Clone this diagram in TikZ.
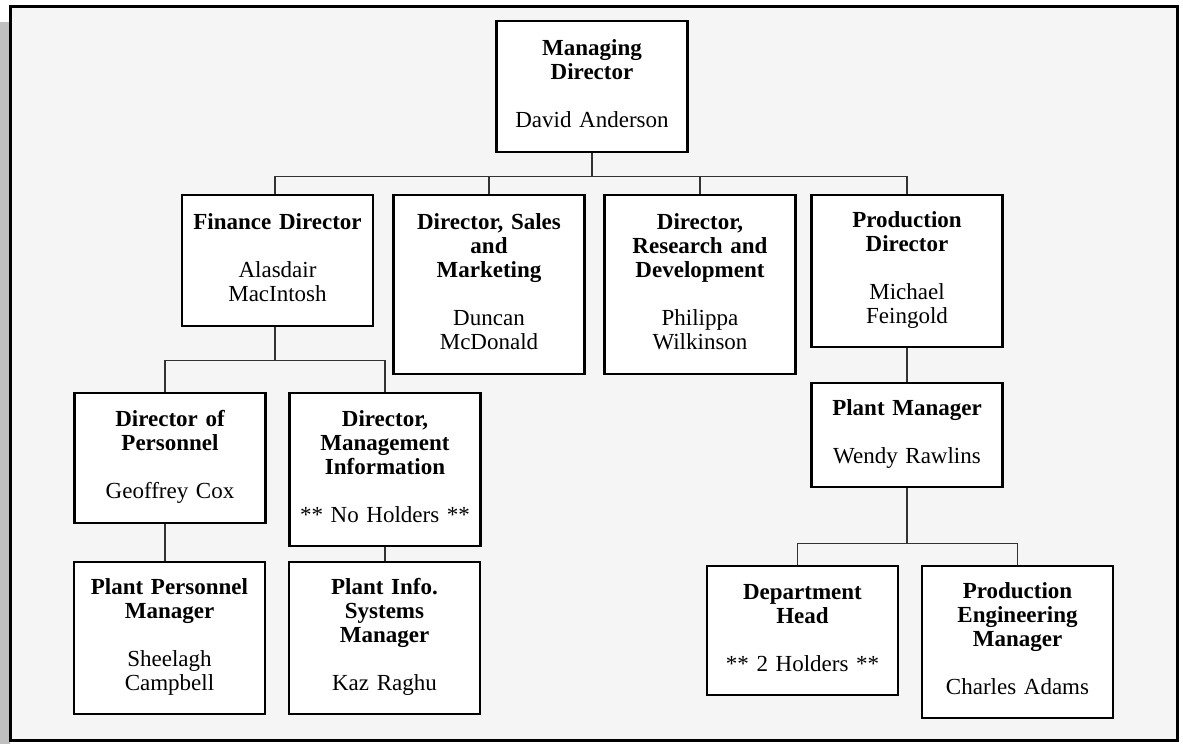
\documentclass[tikz,border=0pt]{standalone}
\usepackage{fontspec}
\setmainfont{Liberation Serif}
\definecolor{panel}{RGB}{245,245,245}
\definecolor{shadow}{RGB}{191,191,191}
\definecolor{linkgray}{RGB}{51,51,51}
\begin{document}
\begin{tikzpicture}[x=1pt,y=-1pt,
  orgbox/.style={draw=black, line width=2.5pt, fill=white, inner sep=0pt,
    minimum width=191pt, text width=181pt, align=center,
    font=\fontsize{23}{24}\selectfont,
    execute at begin node=\strut, execute at end node=\strut},
  link/.style={draw=linkgray, line width=1.3pt}]
\useasboundingbox (0,0) rectangle (1183,744);
% page, side shadow and framed panel
\fill[white] (0,0) rectangle (1183,744);
\fill[shadow] (0,22) rectangle (10,744);
\draw[line width=3pt, fill=panel] (10.5,6.5) rectangle (1177.5,740.5);

% boxes
\node[orgbox, minimum height=131pt] (md) at (592,86.5)
  {\textbf{Managing\\Director}\\[24pt]David Anderson};
\node[orgbox, minimum height=131pt] (fin) at (277.5,260.5)
  {\textbf{Finance Director}\\[24pt]Alasdair\\MacIntosh};
\node[orgbox, minimum height=179pt] (sales) at (489,284.5)
  {\textbf{Director, Sales\\and\\Marketing}\\[24pt]Duncan\\McDonald};
\node[orgbox, minimum height=179pt] (rnd) at (700,284.5)
  {\textbf{Director,\\Research and\\Development}\\[24pt]Philippa\\Wilkinson};
\node[orgbox, minimum height=152pt] (prod) at (907,271)
  {\textbf{Production\\Director}\\[24pt]Michael\\Feingold};
\node[orgbox, minimum height=130pt] (dop) at (170,458)
  {\textbf{Director of\\Personnel}\\[24pt]Geoffrey Cox};
\node[orgbox, minimum height=153pt] (mis) at (385,469.5)
  {\textbf{Director,\\Management\\Information}\\[24pt]** No Holders **};
\node[orgbox, minimum height=152pt] (ppm) at (169.5,638)
  {\textbf{Plant Personnel\\Manager}\\[24pt]Sheelagh\\Campbell};
\node[orgbox, minimum height=152pt] (pis) at (384.5,638)
  {\textbf{Plant Info.\\Systems\\Manager}\\[24pt]Kaz Raghu};
\node[orgbox, minimum height=104pt] (pm) at (907,435)
  {\textbf{Plant Manager}\\[24pt]Wendy Rawlins};
\node[orgbox, minimum height=129pt] (dh) at (802.5,630.5)
  {\textbf{Department\\Head}\\[24pt]** 2 Holders **};
\node[orgbox, minimum height=152pt] (pem) at (1017.5,642)
  {\textbf{Production\\Engineering\\Manager}\\[24pt]Charles Adams};

% reporting lines
\draw[link] (md.south) -- ++(0,23) -| ([xshift=-2.5pt]fin.north);
\draw[link] (md.south) -- ++(0,23) -| (sales.north);
\draw[link] (md.south) -- ++(0,23) -| (rnd.north);
\draw[link] (md.south) -- ++(0,23) -| (prod.north);
\draw[link] ([xshift=-2.5pt]fin.south) -- ++(0,33) -| ([xshift=-5pt]dop.north);
\draw[link] ([xshift=-2.5pt]fin.south) -- ++(0,33) -| (mis.north);
\draw[link] ([xshift=-5pt]dop.south) -- ([xshift=-5pt]dop.south |- ppm.north);
\draw[link] (mis.south) -- (mis.south |- pis.north);
\draw[link] (prod.south) -- (pm.north);
\draw[link] (pm.south) -- ++(0,55) -| ([xshift=-5pt]dh.north);
\draw[link] (pm.south) -- ++(0,55) -| (pem.north);
\end{tikzpicture}
\end{document}
